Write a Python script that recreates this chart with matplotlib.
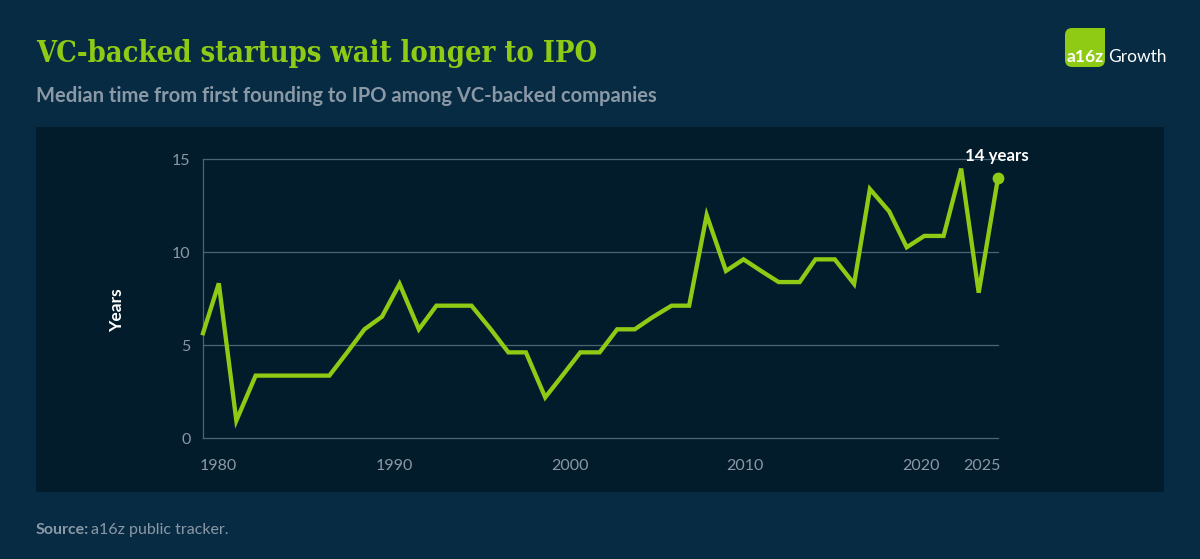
import matplotlib
matplotlib.use('Agg')
import matplotlib.pyplot as plt
from matplotlib.patches import FancyBboxPatch, Rectangle

years = [1979.1, 1980.0, 1981.0, 1982.1, 1983.1, 1984.2, 1985.2, 1986.3, 1987.3, 1988.3,
         1989.3, 1990.3, 1991.4, 1992.4, 1993.4, 1994.4, 1995.5, 1996.5, 1997.5, 1998.6,
         1999.6, 2000.6, 2001.7, 2002.7, 2003.7, 2004.7, 2005.8, 2006.8, 2007.8, 2008.9,
         2009.9, 2010.9, 2011.9, 2013.1, 2014.0, 2015.1, 2016.2, 2017.1, 2018.2, 2019.2,
         2020.2, 2021.3, 2022.3, 2023.3, 2024.4]
median_years = [5.65, 8.33, 0.95, 3.37, 3.37, 3.37, 3.37, 3.37, 4.6, 5.86,
                6.54, 8.3, 5.86, 7.13, 7.13, 7.13, 5.86, 4.62, 4.62, 2.2,
                3.4, 4.62, 4.62, 5.86, 5.86, 6.5, 7.13, 7.13, 12.0, 9.0,
                9.62, 9.0, 8.4, 8.4, 9.62, 9.62, 8.3, 13.4, 12.2, 10.27,
                10.88, 10.88, 14.5, 7.83, 14.0]
x_ticks = [1980, 1990, 2000, 2010, 2020, 2023.5]
x_labels = ['1980', '1990', '2000', '2010', '2020', '2025']
y_ticks = [0, 5, 10, 15]

GREEN = '#8fcb14'
BG = '#072b43'
PANEL = '#031c2b'
GRID = '#4d6473'
GREY = '#8b98a6'
W, H = 1200, 559

plt.rcParams['font.family'] = ['Lato', 'DejaVu Sans']

fig = plt.figure(figsize=(W / 100, H / 100), dpi=100, facecolor=BG)

# dark panel behind the chart
fig.add_artist(Rectangle((36 / W, 1 - 492 / H), 1128 / W, 365 / H, transform=fig.transFigure,
                         facecolor=PANEL, edgecolor='none', zorder=-1))

ax = fig.add_axes([203 / W, 1 - 438.3 / H, 795 / W, 279 / H], facecolor='none')
ax.plot(years, median_years, color=GREEN, lw=3.1, solid_joinstyle='miter', clip_on=False, zorder=3)
ax.plot(years[-1], median_years[-1], 'o', color=GREEN, ms=8.5, mec='none', clip_on=False, zorder=4)

ax.set_xlim(years[0], years[-1])
ax.set_ylim(0, 15)
ax.set_xticks(x_ticks, x_labels)
ax.set_yticks(y_ticks)
ax.tick_params(length=0, labelcolor=GREY, labelsize=11.5)
ax.tick_params(axis='x', pad=15)
ax.tick_params(axis='y', pad=9)
ax.yaxis.grid(True, color=GRID, lw=0.9, clip_on=False)
ax.set_axisbelow(True)
for side in ['top', 'right', 'bottom']:
    ax.spines[side].set_visible(False)
ax.spines['left'].set_color(GRID)
ax.spines['left'].set_linewidth(0.9)

ax.set_ylabel('Years', color='white', fontsize=12.5, fontweight='bold')
ax.yaxis.set_label_coords((125 - 203) / 795, 0.46)
ax.annotate('14 years', (years[-1], median_years[-1]), xytext=(-1, 10), textcoords='offset points',
            ha='center', va='bottom', color='white', fontsize=12.2, fontweight='bold')

fig.text(36 / W, 1 - 53 / H, 'VC-backed startups wait longer to IPO', color=GREEN, fontsize=20.8,
         fontweight='bold', family='DejaVu Serif', stretch='condensed', va='center')
fig.text(36 / W, 1 - 95.5 / H, 'Median time from first founding to IPO among VC-backed companies',
         color=GREY, fontsize=14.5, fontweight='bold', va='center')

fig.text(36 / W, 1 - 530 / H, 'Source:', color=GREY, fontsize=11.5, fontweight='bold', va='center')
fig.text(91 / W, 1 - 530 / H, 'a16z public tracker.', color=GREY, fontsize=11.5, va='center')

# logo
fig.add_artist(FancyBboxPatch((1065 / W, 1 - 67 / H), 40 / W, 39 / H, transform=fig.transFigure,
                              boxstyle='round,pad=0,rounding_size=0.006', facecolor=GREEN,
                              edgecolor='none', mutation_aspect=W / H))
fig.add_artist(Rectangle((1095 / W, 1 - 38 / H), 10 / W, 10 / H, transform=fig.transFigure,
                         facecolor=GREEN, edgecolor='none'))
fig.text(1085 / W, 1 - 57 / H, 'a16z', color='white', fontsize=12.5, fontweight='bold',
         ha='center', va='center')
fig.text(1108 / W, 1 - 57 / H, 'Growth', color='white', fontsize=12.5, fontweight='normal', va='center')

fig.savefig('out.png', dpi=100, facecolor=BG)
